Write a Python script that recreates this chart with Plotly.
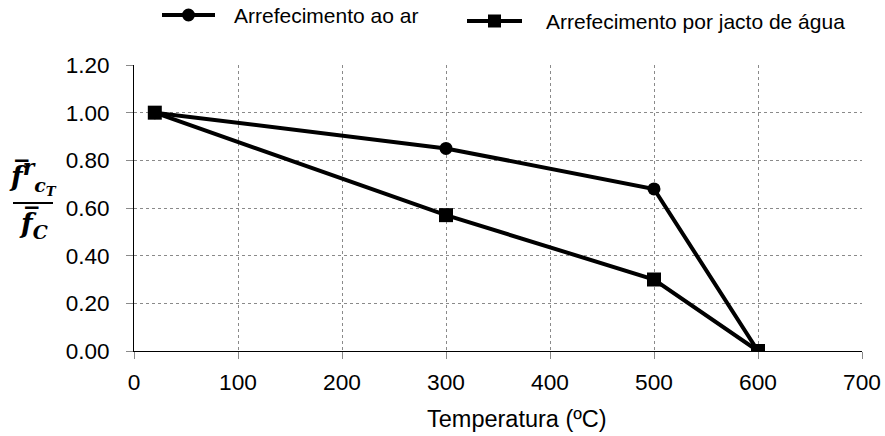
import plotly.graph_objects as go

temps = [20, 300, 500, 600]
ar = [1.00, 0.85, 0.68, 0.00]
agua = [1.00, 0.57, 0.30, 0.00]
names = ["Arrefecimento ao ar", "Arrefecimento por jacto de água"]
x_title = "Temperatura (ºC)"

fig = go.Figure()
fig.add_trace(go.Scatter(x=temps, y=ar, name=names[0], mode="lines+markers",
                         line=dict(color="black", width=4), showlegend=False,
                         marker=dict(symbol="circle", size=13, color="black")))
fig.add_trace(go.Scatter(x=temps, y=agua, name=names[1], mode="lines+markers",
                         line=dict(color="black", width=4), showlegend=False,
                         marker=dict(symbol="square", size=14, color="black")))

grid = dict(showgrid=True, gridcolor="#8a8a8a", griddash="dot", gridwidth=1)
fig.update_xaxes(range=[0, 700], dtick=100, tickformat="d", **grid,
                 showline=True, linecolor="black", linewidth=1, ticks="outside",
                 ticklen=7, tickcolor="#8a8a8a", zeroline=False, automargin=False,
                 ticklabelstandoff=4, tickfont=dict(size=22.7))
fig.update_yaxes(range=[0, 1.2], dtick=0.2, tickformat=".2f", **grid,
                 showline=True, linecolor="black", linewidth=1, ticks="outside",
                 ticklen=7, tickcolor="#8a8a8a", zeroline=False, automargin=False,
                 ticklabelstandoff=12, tickfont=dict(size=22.5))

# page-pixel helpers (plot area: x 134..862, y 65..351)
def px(p):
    return (p - 134) / 728.0

def py(p):
    return (351 - p) / 286.0

# x-axis title
fig.add_annotation(xref="paper", yref="paper", x=px(517), y=py(419), xanchor="center", yanchor="middle",
                   text=x_title, showarrow=False, font=dict(size=23.5))

# y-axis label as a fraction
fig.add_annotation(xref="paper", yref="paper", x=px(33), y=py(201), xanchor="center", yanchor="bottom",
                   text="<b><i>f̅</i><sup><span style='font-size:22px'><i>r</i></span></sup>"
                        "<sub><i>c</i><sub><i>T</i></sub></sub></b>",
                   showarrow=False, font=dict(family="DejaVu Serif", size=27, color="black"))
fig.add_annotation(xref="paper", yref="paper", x=px(33), y=py(204), xanchor="center", yanchor="top",
                   text="<b><i>f̅<sub>C</sub></i></b>",
                   showarrow=False, font=dict(family="DejaVu Serif", size=27, color="black"))
fig.add_shape(type="line", xref="paper", yref="paper", x0=px(13), x1=px(53), y0=py(203), y1=py(203),
              line=dict(color="black", width=2))

# legend drawn in the top margin
legend_items = [
    (names[0], "circle", 162, 215, 15, 233),
    (names[1], "square", 467, 522, 21, 545),
]
for name, sym, x0, x1, yy, tx in legend_items:
    fig.add_shape(type="line", xref="paper", yref="paper", x0=px(x0), x1=px(x1), y0=py(yy), y1=py(yy),
                  line=dict(color="black", width=4))
    cx = (x0 + x1) / 2
    r = 6.5
    fig.add_shape(type="circle" if sym == "circle" else "rect", xref="paper", yref="paper",
                  x0=px(cx - r), x1=px(cx + r), y0=py(yy - r), y1=py(yy + r),
                  fillcolor="black", line=dict(color="black", width=0))
    fig.add_annotation(xref="paper", yref="paper", x=px(tx), y=py(yy), xanchor="left", yanchor="middle",
                       text=name, showarrow=False, font=dict(size=21), xshift=-1)

fig.update_layout(
    width=885, height=436,
    margin=dict(l=134, r=23, t=65, b=85, autoexpand=False),
    plot_bgcolor="white", paper_bgcolor="white",
    font=dict(family="Liberation Sans, Arial", color="black", size=20),
    showlegend=False,
)
fig.write_html("out.html", config={"displayModeBar": False},
               post_script="document.body.style.margin='0';document.body.style.overflow='hidden';")
